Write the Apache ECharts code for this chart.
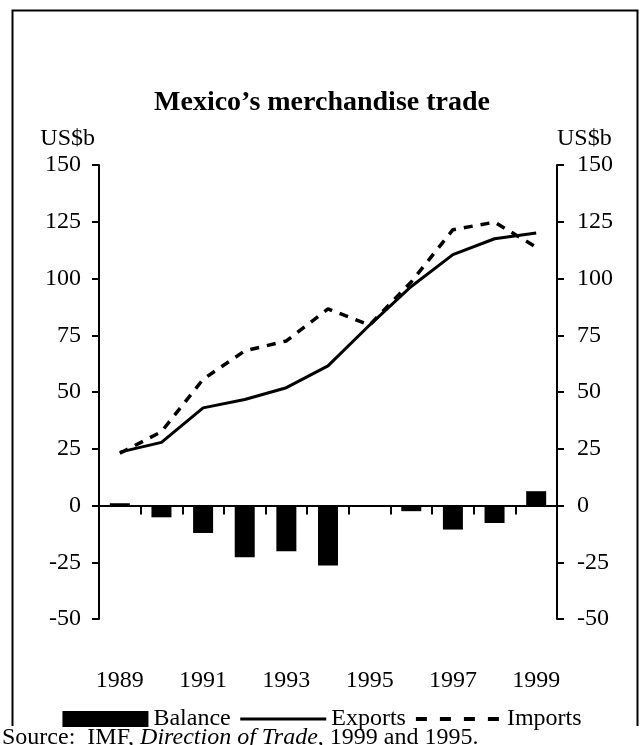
<!DOCTYPE html>
<html>
<head>
<meta charset="utf-8">
<script src="https://cdn.jsdelivr.net/npm/echarts@6/dist/echarts.min.js"></script>
<style>
html,body{margin:0;padding:0;background:#fff;}
#chart{width:644px;height:745px;}
</style>
</head>
<body>
<div id="chart"></div>
<script>
const years = ['1989','1990','1991','1992','1993','1994','1995','1996','1997','1998','1999'];
const balance = [1.0, -5.2, -12.1, -22.8, -20.2, -26.4, 0, -2.5, -10.6, -7.7, 6.3];
const exports = [23.5, 27.8, 43.0, 46.7, 51.9, 61.5, 79.5, 96.5, 110.5, 117.5, 120.0];
const imports = [23.0, 32.5, 55.6, 68.1, 72.5, 86.6, 79.5, 98.5, 121.5, 124.8, 113.8];
const yTicks = {min: -50, max: 150, interval: 25};

const FONT = 'Liberation Serif';
const chart = echarts.init(document.getElementById('chart'), null, {renderer: 'canvas'});

const yAxisBase = (pos) => ({
  type: 'value',
  position: pos,
  min: yTicks.min, max: yTicks.max, interval: yTicks.interval,
  splitLine: {show: false},
  axisLine: {show: true, lineStyle: {color: '#000', width: 2}},
  axisTick: {show: true, length: 7, lineStyle: {color: '#000', width: 2}},
  axisLabel: {color: '#000', fontFamily: FONT, fontSize: 24, margin: pos === 'left' ? 18 : 20},
  name: 'US$b',
  nameLocation: 'end',
  nameGap: 14,
  nameTextStyle: {color: '#000', fontFamily: FONT, fontSize: 24, align: pos === 'left' ? 'right' : 'left',
    padding: pos === 'left' ? [0, 4, 0, 0] : [0, 0, 0, 0]}
});

chart.setOption({
  animation: false,
  backgroundColor: '#fff',
  title: {
    text: 'Mexico\u2019s merchandise trade',
    left: 'center',
    top: 84,
    textStyle: {fontFamily: FONT, fontWeight: 'bold', fontSize: 28, color: '#000'}
  },
  grid: {left: 99, right: 87, top: 165, bottom: 126, containLabel: false},
  legend: {
    top: 702,
    left: 'center',
    itemWidth: 86,
    itemHeight: 16,
    itemGap: 8,
    textStyle: {fontFamily: FONT, fontSize: 24, color: '#000'},
    data: [
      {name: 'Balance', icon: 'rect'},
      {name: 'Exports', itemStyle: {opacity: 0}, lineStyle: {width: 3}},
      {name: 'Imports', itemStyle: {opacity: 0}, lineStyle: {width: 4, type: [11, 13]}}
    ]
  },
  xAxis: [
    {
      type: 'category', data: years, position: 'bottom',
      axisLine: {show: true, onZero: true, lineStyle: {color: '#000', width: 2}},
      axisTick: {show: true, length: 9, lineStyle: {color: '#000', width: 2}},
      axisLabel: {show: false}
    },
    {
      type: 'category', data: years, position: 'bottom',
      axisLine: {show: false, onZero: false},
      axisTick: {show: false},
      axisLabel: {show: true, interval: 1, color: '#000', fontFamily: FONT, fontSize: 24, margin: 50}
    }
  ],
  yAxis: [yAxisBase('left'), yAxisBase('right')],
  series: [
    {
      name: 'Balance', type: 'bar', data: balance, barWidth: 20,
      itemStyle: {color: '#000'}, xAxisIndex: 0, yAxisIndex: 0
    },
    {
      name: 'Imports', type: 'line', data: imports, symbol: 'none', z: 3,
      lineStyle: {color: '#000', width: 3.5, type: [9, 8]}, itemStyle: {color: '#000'},
      xAxisIndex: 0, yAxisIndex: 0
    },
    {
      name: 'Exports', type: 'line', data: exports, symbol: 'none', z: 4,
      lineStyle: {color: '#000', width: 3}, itemStyle: {color: '#000'},
      xAxisIndex: 0, yAxisIndex: 0
    }
  ],
  graphic: [
    {
      type: 'polyline', silent: true,
      shape: {points: [[12.5, 726], [12.5, 10.5], [637.5, 10.5], [637.5, 726]]},
      style: {stroke: '#000', lineWidth: 2, fill: null}
    },
    {
      type: 'text', left: 2, top: 726,
      style: {
        text: 'Source:  IMF, {i|Direction of Trade}, 1999 and 1995.',
        font: '24px "Liberation Serif"', fill: '#000', backgroundColor: '#fff',
        rich: {i: {fontStyle: 'italic', fontFamily: FONT, fontSize: 24, fill: '#000'}}
      }
    }
  ]
});
</script>
</body>
</html>
